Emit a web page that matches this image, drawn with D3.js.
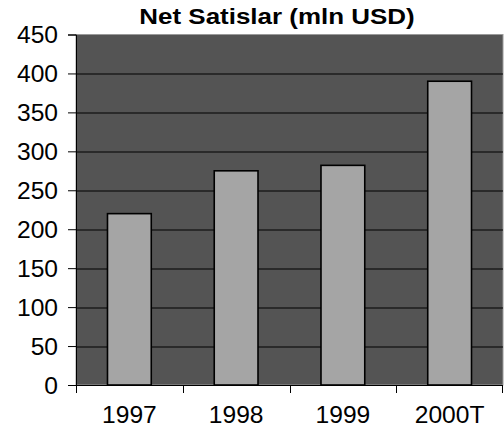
<!DOCTYPE html>
<meta charset="utf-8">
<script src="https://d3js.org/d3.v7.min.js"></script>
<style>
  body { margin: 0; background: #fff; }
  text { font-family: "Liberation Sans", Arial, sans-serif; fill: #000; }
</style>
<div id="chart"></div>
<script>

// data
var years = ["1997", "1998", "1999", "2000T"];
var sales = [220, 275, 282, 390];
var yTicks = [0, 50, 100, 150, 200, 250, 300, 350, 400, 450];
var title = "Net Satislar (mln USD)";

var W = 504, H = 437;
var margin = {top: 34.5, right: 1, bottom: 52, left: 76};
var width = W - margin.left - margin.right,
    height = H - margin.top - margin.bottom;

// the original text is a bit stretched sideways
var stretch = 1.07;

var svg = d3.select("#chart").append("svg")
    .attr("width", W)
    .attr("height", H);

var g = svg.append("g")
    .attr("transform", "translate(" + margin.left + "," + margin.top + ")");

var x = d3.scaleBand()
    .domain(years)
    .range([0, width])
    .padding(0);

var y = d3.scaleLinear()
    .domain([0, 450])
    .range([height, 0]);

// plot area
g.append("rect")
    .attr("x", 0)
    .attr("y", 0)
    .attr("width", width)
    .attr("height", height)
    .attr("fill", "#545454")
    .attr("stroke", "#9a9a9a")
    .attr("stroke-width", 1);

// gridlines
g.selectAll(".grid")
  .data(yTicks.filter(function(d) { return d > 0 && d < 450; }))
  .enter().append("line")
    .attr("x1", 0)
    .attr("x2", width)
    .attr("y1", function(d) { return Math.round(y(d)) + 0.5; })
    .attr("y2", function(d) { return Math.round(y(d)) + 0.5; })
    .attr("stroke", "#000")
    .attr("stroke-width", 1);

// bars
var barW = x.bandwidth() * 0.41;
g.selectAll(".bar")
  .data(sales)
  .enter().append("rect")
    .attr("x", function(d, i) { return x(years[i]) + (x.bandwidth() - barW) / 2; })
    .attr("y", function(d) { return y(d); })
    .attr("width", barW)
    .attr("height", function(d) { return height - y(d); })
    .attr("fill", "#a5a5a5")
    .attr("stroke", "#000")
    .attr("stroke-width", 1.6);

// y axis
var yAxis = g.append("g")
    .call(d3.axisLeft(y).tickValues(yTicks).tickSize(8).tickFormat(""));
yAxis.select(".domain").attr("stroke", "#000");
yAxis.selectAll(".tick line").attr("stroke", "#000");

yAxis.selectAll(".tick").append("text")
    .attr("transform", "translate(-18,8) scale(" + stretch + ",1)")
    .style("text-anchor", "end")
    .style("font-size", "23px")
    .text(function(d) { return d; });

// x axis
var xAxis = g.append("g")
    .attr("transform", "translate(0," + height + ")");
xAxis.append("line")
    .attr("x1", -8).attr("x2", width)
    .attr("y1", 0.5).attr("y2", 0.5)
    .attr("stroke", "#000");
xAxis.selectAll(".xt")
  .data(years.concat(["end"]))
  .enter().append("line")
    .attr("x1", function(d, i) { return i < years.length ? Math.round(x(d)) + 0.5 : width - 0.5; })
    .attr("x2", function(d, i) { return i < years.length ? Math.round(x(d)) + 0.5 : width - 0.5; })
    .attr("y1", 0)
    .attr("y2", 8)
    .attr("stroke", "#000");
xAxis.selectAll(".xl")
  .data(years)
  .enter().append("text")
    .attr("transform", function(d) {
      return "translate(" + (x(d) + x.bandwidth() / 2) + ",38) scale(" + stretch + ",1)";
    })
    .style("text-anchor", "middle")
    .style("font-size", "23px")
    .text(function(d) { return d; });

// title
svg.append("text")
    .attr("transform", "translate(277,24) scale(1.18,1)")
    .style("text-anchor", "middle")
    .style("font-size", "22px")
    .style("font-weight", "bold")
    .text(title);

</script>
